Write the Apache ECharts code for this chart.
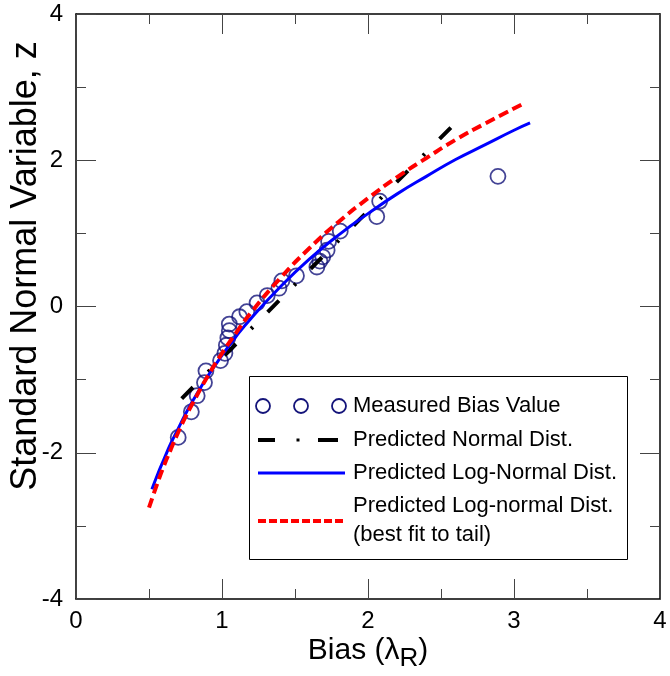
<!DOCTYPE html>
<html>
<head>
<meta charset="utf-8">
<script src="https://cdn.jsdelivr.net/npm/echarts@6/dist/echarts.min.js"></script>
<style>
html, body { margin: 0; padding: 0; background: #fff; }
#chart { width: 670px; height: 676px; }
</style>
</head>
<body>
<div id="chart"></div>
<script>
var fontName = '"Liberation Sans", Arial, sans-serif';

// tick values of both axes
var xTickValues = [0, 1, 2, 3, 4];
var yTickValues = [-4, -2, 0, 2, 4];

// measured bias values (lambda_R , z)
var measuredX = [0.70, 0.79, 0.83, 0.88, 0.89, 0.99, 1.02, 1.03, 1.04, 1.05, 1.05, 1.12, 1.17, 1.24,
    1.31, 1.39, 1.41, 1.51, 1.65, 1.67, 1.69, 1.72, 1.73, 1.81, 2.06, 2.08, 2.89];
var measuredY = [-1.79, -1.44, -1.22, -1.04, -0.88, -0.74, -0.64, -0.53, -0.43, -0.33, -0.24, -0.14, -0.07, 0.05,
    0.15, 0.25, 0.35, 0.42, 0.54, 0.62, 0.68, 0.77, 0.89, 1.03, 1.23, 1.44, 1.78];

// predicted normal dist.
var normalX = [0.724, 2.584];
var normalY = [-1.26, 2.48];

// predicted log-normal dist.
var logNormalX = [0.52, 0.56, 0.60, 0.65, 0.70, 0.75, 0.80, 0.90, 1.00, 1.10, 1.20, 1.40, 1.60, 1.80,
    2.00, 2.20, 2.40, 2.60, 2.80, 3.00, 3.11];
var logNormalY = [-2.50, -2.29, -2.10, -1.87, -1.67, -1.47, -1.29, -0.96, -0.67, -0.40, -0.16, 0.27, 0.65, 0.98,
    1.27, 1.54, 1.78, 2.01, 2.21, 2.41, 2.51];

// predicted log-normal dist. (best fit to tail)
var tailFitX = [0.50, 0.55, 0.60, 0.65, 0.70, 0.75, 0.80, 0.90, 1.00, 1.10, 1.20, 1.40, 1.60, 1.80,
    2.00, 2.20, 2.40, 2.60, 2.80, 3.06];
var tailFitY = [-2.75, -2.46, -2.19, -1.95, -1.72, -1.51, -1.32, -0.96, -0.64, -0.35, -0.08, 0.39, 0.80, 1.16,
    1.48, 1.77, 2.03, 2.28, 2.50, 2.77];

function pairs(xs, ys) {
    return xs.map(function (x, i) { return [x, ys[i]]; });
}

var chart = echarts.init(document.getElementById('chart'));

var tickLine = { color: '#444', width: 1 };
var frameLine = { color: '#000', width: 1.5 };

function xAxisCfg(pos, labels) {
    return {
        type: 'value',
        position: pos,
        min: xTickValues[0],
        max: xTickValues[xTickValues.length - 1],
        interval: xTickValues[1] - xTickValues[0],
        axisLine: { show: true, onZero: false, lineStyle: frameLine },
        axisTick: { show: true, inside: true, length: 20, lineStyle: tickLine },
        minorTick: { show: true, splitNumber: 2, length: 10, lineStyle: tickLine },
        splitLine: { show: false },
        axisLabel: { show: labels, color: '#000', fontSize: 24, fontFamily: fontName, margin: 10 }
    };
}
function yAxisCfg(pos, labels) {
    return {
        type: 'value',
        position: pos,
        min: yTickValues[0],
        max: yTickValues[yTickValues.length - 1],
        interval: yTickValues[1] - yTickValues[0],
        axisLine: { show: true, onZero: false, lineStyle: frameLine },
        axisTick: { show: true, inside: true, length: 20, lineStyle: tickLine },
        minorTick: { show: true, splitNumber: 2, length: 10, lineStyle: tickLine },
        splitLine: { show: false },
        axisLabel: { show: labels, color: '#000', fontSize: 24, fontFamily: fontName, margin: 13 }
    };
}

// legend drawn by hand (box at the lower right)
var lgX = 258, lgText = 353;
var legendFont = { fill: '#000', fontSize: 22, fontFamily: fontName, verticalAlign: 'middle', align: 'left' };
function lgLabel(txt, y) {
    return { type: 'text', x: lgText, y: y, style: Object.assign({ text: txt }, legendFont), z: 20 };
}
function lgCircle(cx) {
    return { type: 'circle', shape: { cx: cx, cy: 406, r: 7 },
        style: { fill: 'none', stroke: '#14147a', lineWidth: 1.8 }, z: 20 };
}

var graphics = [
    { type: 'rect', shape: { x: 249.5, y: 376.5, width: 378, height: 183 },
        style: { fill: '#fff', stroke: '#000', lineWidth: 1 }, z: 19 },
    lgCircle(263), lgCircle(301), lgCircle(339),
    lgLabel('Measured Bias Value', 406),
    { type: 'line', shape: { x1: lgX, y1: 440, x2: 275, y2: 440 }, style: { stroke: '#000', lineWidth: 4 }, z: 20 },
    { type: 'rect', shape: { x: 296.5, y: 438.5, width: 3, height: 3 }, style: { fill: '#000' }, z: 20 },
    { type: 'line', shape: { x1: 318, y1: 440, x2: 338, y2: 440 }, style: { stroke: '#000', lineWidth: 4 }, z: 20 },
    lgLabel('Predicted Normal Dist.', 440),
    { type: 'line', shape: { x1: lgX, y1: 473, x2: 345, y2: 473 }, style: { stroke: '#0000ff', lineWidth: 3 }, z: 20 },
    lgLabel('Predicted Log-Normal Dist.', 473),
    { type: 'line', shape: { x1: lgX, y1: 521, x2: 345, y2: 521 },
        style: { stroke: '#ff0000', lineWidth: 4, lineDash: [8, 3] }, z: 20 },
    lgLabel('Predicted Log-normal Dist.', 506),
    lgLabel('(best fit to tail)', 535),
    // y axis title
    { type: 'text', x: 26, y: 266, rotation: Math.PI / 2,
        style: { text: 'Standard Normal Variable, z', fill: '#000', fontSize: 36, fontFamily: fontName,
            align: 'center', verticalAlign: 'middle' } },
    // x axis title with subscript
    { type: 'text', x: 368, y: 636,
        style: { text: '{a|Bias (λ}{b|R}{a|)}', align: 'center', verticalAlign: 'top', fill: '#000',
            rich: {
                a: { fontSize: 30, fontFamily: fontName, lineHeight: 36, verticalAlign: 'top', fill: '#000' },
                b: { fontSize: 26, fontFamily: fontName, lineHeight: 28, verticalAlign: 'bottom', fill: '#000' }
            } } }
];

var option = {
    animation: false,
    backgroundColor: '#fff',
    grid: { left: 76, right: 10, top: 14, bottom: 77, outerBoundsMode: 'none' },
    xAxis: [xAxisCfg('bottom', true), xAxisCfg('top', false)],
    yAxis: [yAxisCfg('left', true), yAxisCfg('right', false)],
    graphic: graphics,
    series: [
        {
            name: 'Measured Bias Value',
            type: 'scatter',
            data: pairs(measuredX, measuredY),
            symbol: 'circle',
            symbolSize: 15,
            itemStyle: { color: 'rgba(0,0,0,0)', borderColor: '#14147a', borderWidth: 1.8 },
            z: 2
        },
        {
            name: 'Predicted Normal Dist.',
            type: 'line',
            data: pairs(normalX, normalY),
            showSymbol: false,
            lineStyle: { color: '#000', width: 4, type: [16, 21.5, 2.5, 21], cap: 'butt' },
            z: 3
        },
        {
            name: 'Predicted Log-Normal Dist.',
            type: 'line',
            data: pairs(logNormalX, logNormalY),
            smooth: true,
            showSymbol: false,
            lineStyle: { color: '#0000ff', width: 3 },
            z: 4
        },
        {
            name: 'Predicted Log-normal Dist. (best fit to tail)',
            type: 'line',
            data: pairs(tailFitX, tailFitY),
            smooth: true,
            showSymbol: false,
            lineStyle: { color: '#ff0000', width: 4, type: [10, 5] },
            z: 5
        }
    ]
};
chart.setOption(option);
</script>
</body>
</html>
